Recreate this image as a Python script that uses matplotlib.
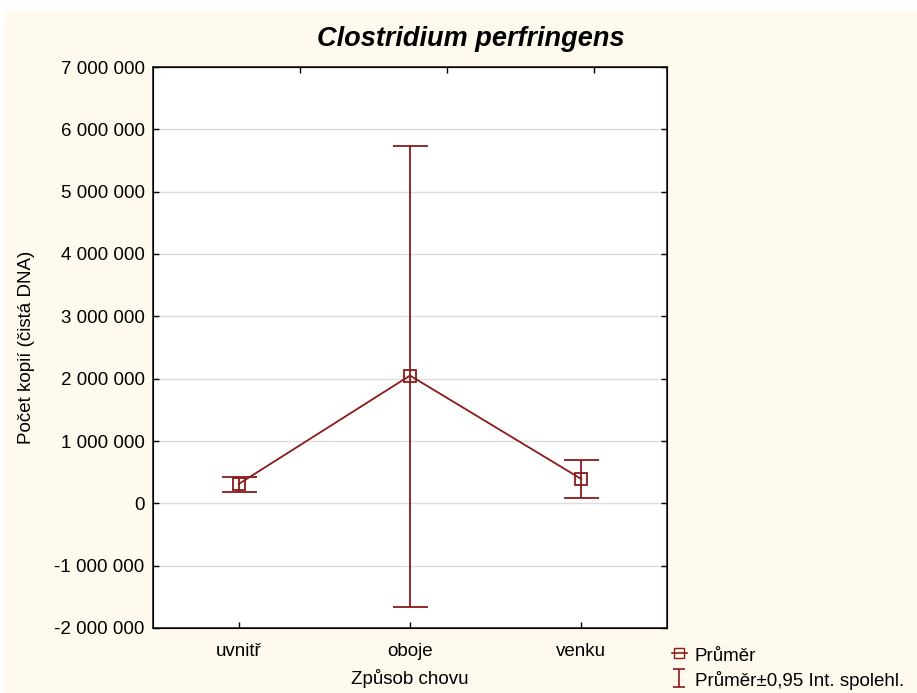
import matplotlib
matplotlib.use("Agg")
import matplotlib.pyplot as plt
import numpy as np
from matplotlib.lines import Line2D
from matplotlib.patches import Rectangle
from matplotlib.ticker import FuncFormatter

# Mean copy counts with 95 % confidence limits per housing type
categories = ["uvnitř", "oboje", "venku"]
means = [310000, 2050000, 390000]
ci_low = [180000, -1660000, 90000]
ci_high = [420000, 5740000, 690000]

red = "#8b1a1a"
plt.rcParams["font.family"] = ["Liberation Sans", "DejaVu Sans"]
fs = 13.5

fig = plt.figure(figsize=(9.17, 6.93), dpi=100)
fig.patch.set_facecolor("white")
# cream panel behind everything
fig.patches.append(Rectangle((5 / 917, 0), 1, 1 - 11 / 693, transform=fig.transFigure,
                             facecolor="#fff9ee", edgecolor="none", zorder=-10))

ax = fig.add_axes([153 / 917, 1 - 628 / 693, 514 / 917, 561 / 693])
ax.set_facecolor("white")

x = list(range(1, len(categories) + 1))
lower = [m - lo for m, lo in zip(means, ci_low)]
upper = [hi - m for m, hi in zip(means, ci_high)]

ax.plot(x, means, color=red, lw=1.3, zorder=3)
ax.errorbar(x, means, yerr=[lower, upper], fmt="none", ecolor=red,
            elinewidth=1.3, capsize=12.6, capthick=1.3, zorder=3)
ax.plot(x, means, ls="none", marker="s", ms=8, mfc="none", mec=red, mew=1.3, zorder=4)

ax.set_xlim(0.5, 3.5)
ax.set_ylim(-2000000, 7000000)
ax.set_yticks(range(-2000000, 7000001, 1000000))
ax.yaxis.set_major_formatter(FuncFormatter(lambda v, p: f"{int(v):,}".replace(",", " ")))
ax.set_xticks(x)
ax.set_xticklabels(categories)
ax.grid(axis="y", color="#dddddd", lw=1)
ax.set_axisbelow(True)

ax.tick_params(direction="in", length=4, width=1, labelsize=fs, right=True)
ax.tick_params(axis="x", pad=11)
ax.tick_params(axis="y", pad=6)
for s in ax.spines.values():
    s.set_linewidth(1.2)
    s.set_color("#222222")

# top ticks follow a separate spacing
top = ax.twiny()
top.set_xlim(0, 3.5)
top.set_xticks([1, 2, 3])
top.tick_params(direction="in", length=4, width=1, labeltop=False)

ax.set_xlabel("Způsob chovu", fontsize=fs, labelpad=6)
ax.set_ylabel("Počet kopií (čistá DNA)", fontsize=fs, labelpad=14)
fig.text(471 / 917, 1 - 39 / 693, "Clostridium perfringens", ha="center", va="center",
         fontsize=19.5, fontweight="bold", fontstyle="italic")

# legend handles: line with square, and a small capped bar
mean_handle = Line2D([], [], color=red, lw=1.2, marker="s", ms=7, mfc="none", mec=red)
ci_handle = ax.errorbar([np.nan], [np.nan], yerr=[[1], [1]], fmt="none", ecolor=red,
                        elinewidth=1.2, capsize=4.5, capthick=1.2)
fig.legend([mean_handle, ci_handle], ["Průměr", "Průměr±0,95 Int. spolehl."],
           loc="lower left", bbox_to_anchor=(664 / 917, -0.006), frameon=False,
           fontsize=fs, handlelength=0.8, handleheight=1.1, handletextpad=0.45,
           labelspacing=0.3, borderaxespad=0.0)

fig.savefig("out.png", dpi=100)
